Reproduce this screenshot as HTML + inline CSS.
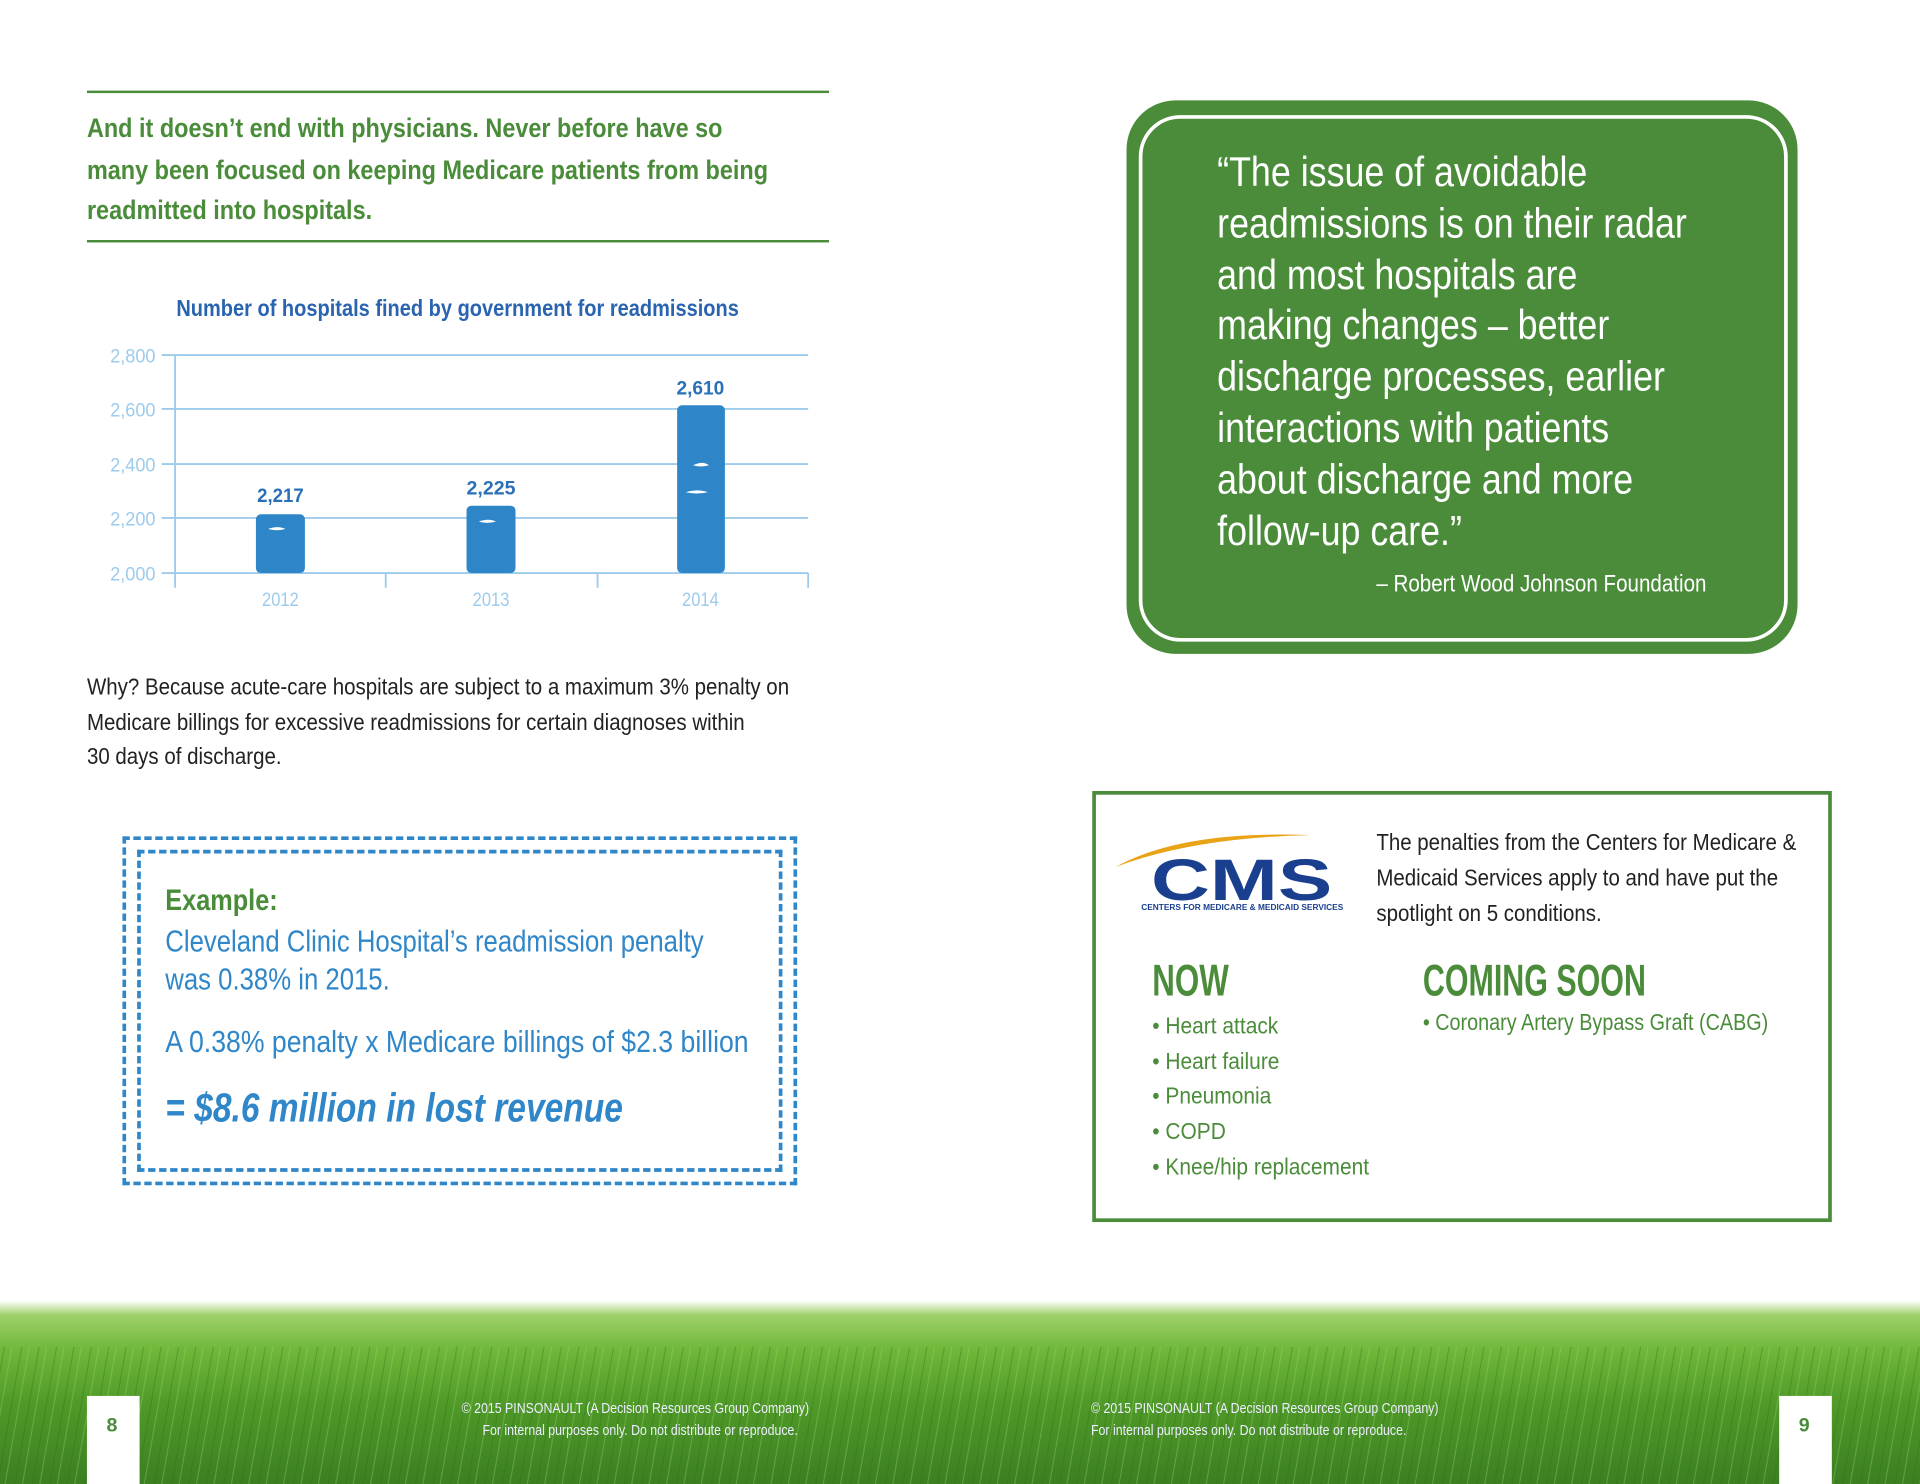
<!DOCTYPE html>
<html><head><meta charset="utf-8">
<style>
html,body{margin:0;padding:0;background:#fff;}
body{width:1920px;height:1484px;overflow:hidden;position:relative;}
#w{position:absolute;left:0;top:0;width:1568px;height:1212px;transform:scale(1.22449);transform-origin:0 0;font-family:"Liberation Sans",sans-serif;}
.a{position:absolute;white-space:nowrap;}
.l{display:block;transform-origin:0 0;white-space:nowrap;}
.g{color:#4a8c3a;}
.b{color:#2f86c8;}
</style></head><body><div id="w">
<div class="a" style="left:71px;top:74px;width:606px;height:2px;background:#4a8c3a"></div>
<div class="a g" style="left:71px;top:88px;font-size:22px;line-height:33.5px;font-weight:bold">
<span class="l" style="transform:scaleX(0.87)">And it doesn’t end with physicians. Never before have so</span>
<span class="l" style="transform:scaleX(0.87)">many been focused on keeping Medicare patients from being</span>
<span class="l" style="transform:scaleX(0.87)">readmitted into hospitals.</span></div>
<div class="a" style="left:71px;top:196px;width:606px;height:2px;background:#4a8c3a"></div>

<div class="a" style="left:144px;top:242px;font-size:19px;font-weight:bold;color:#2a64b0"><span class="l" style="transform:scaleX(0.86)">Number of hospitals fined by government for readmissions</span></div>
<svg class="a" style="left:0;top:0" width="700" height="520">
<g stroke="#9ccbec" stroke-width="1.5">
<line x1="132" y1="290" x2="660" y2="290"/><line x1="132" y1="334" x2="660" y2="334"/><line x1="132" y1="379" x2="660" y2="379"/><line x1="132" y1="423" x2="660" y2="423"/><line x1="132" y1="468" x2="660" y2="468"/>
<line x1="143" y1="290" x2="143" y2="480"/><line x1="315" y1="468" x2="315" y2="480"/><line x1="488" y1="468" x2="488" y2="480"/><line x1="660" y1="468" x2="660" y2="480"/>
</g>
<g font-family="Liberation Sans,sans-serif" font-size="16" fill="#9ccbec" text-anchor="end">
<text x="127" y="296" textLength="37" lengthAdjust="spacingAndGlyphs">2,800</text><text x="127" y="340" textLength="37" lengthAdjust="spacingAndGlyphs">2,600</text><text x="127" y="385" textLength="37" lengthAdjust="spacingAndGlyphs">2,400</text><text x="127" y="429" textLength="37" lengthAdjust="spacingAndGlyphs">2,200</text><text x="127" y="474" textLength="37" lengthAdjust="spacingAndGlyphs">2,000</text>
</g>
<g font-family="Liberation Sans,sans-serif" font-size="16" fill="#9ccbec" text-anchor="middle">
<text x="229" y="495" textLength="30" lengthAdjust="spacingAndGlyphs">2012</text><text x="401" y="495" textLength="30" lengthAdjust="spacingAndGlyphs">2013</text><text x="572" y="495" textLength="30" lengthAdjust="spacingAndGlyphs">2014</text>
</g>
<g fill="#2e86c8">
<rect x="209" y="420" width="40" height="48" rx="4"/><rect x="381" y="413" width="40" height="55" rx="4"/><rect x="553" y="331" width="39" height="137" rx="4"/>
</g>
<g fill="#fff"><path d="M219 432 q8-3 14 0 q-7 2-14 0z"/><path d="M391 426 q8-3 14 0 q-7 2-14 0z"/><path d="M566 380 q8-4 13 0 q-7 2-13 0z"/><path d="M560 402 q10-3 18 0 q-9 2-18 0z"/></g>
<g font-family="Liberation Sans,sans-serif" font-size="16" font-weight="bold" fill="#2a70b8" text-anchor="middle">
<text x="229" y="410" textLength="38" lengthAdjust="spacingAndGlyphs">2,217</text><text x="401" y="404" textLength="40" lengthAdjust="spacingAndGlyphs">2,225</text><text x="572" y="322" textLength="39" lengthAdjust="spacingAndGlyphs">2,610</text>
</g>
</svg>

<div class="a" style="left:71px;top:548px;font-size:19px;line-height:28.5px;color:#222">
<span class="l" style="transform:scaleX(0.88)">Why? Because acute-care hospitals are subject to a maximum 3% penalty on</span>
<span class="l" style="transform:scaleX(0.88)">Medicare billings for excessive readmissions for certain diagnoses within</span>
<span class="l" style="transform:scaleX(0.88)">30 days of discharge.</span></div>

<div class="a" style="left:100px;top:683px;width:545px;height:279px;border:3px dashed #2f86c8"></div>
<div class="a" style="left:112px;top:694px;width:521px;height:257px;border:3px dashed #2f86c8"></div>
<div class="a g" style="left:135px;top:722px;font-size:24px;font-weight:bold"><span class="l" style="transform:scaleX(0.86)">Example:</span></div>
<div class="a b" style="left:135px;top:754px;font-size:25px;line-height:31px">
<span class="l" style="transform:scaleX(0.84)">Cleveland Clinic Hospital’s readmission penalty</span>
<span class="l" style="transform:scaleX(0.84)">was 0.38% in 2015.</span></div>
<div class="a b" style="left:135px;top:837px;font-size:25px"><span class="l" style="transform:scaleX(0.87)">A 0.38% penalty x Medicare billings of $2.3 billion</span></div>
<div class="a b" style="left:135px;top:886px;font-size:33px;font-weight:bold;font-style:italic"><span class="l" style="transform:scaleX(0.83)">= $8.6 million in lost revenue</span></div>

<div class="a" style="left:920px;top:82px;width:548px;height:452px;background:#4a8c3a;border-radius:40px"></div>
<div class="a" style="left:930px;top:94px;width:524px;height:424px;border:3px solid #fff;border-radius:34px"></div>
<div class="a" style="left:994px;top:121px;font-size:34px;line-height:41.8px;color:#fff">
<span class="l" style="transform:scaleX(0.86)">“The issue of avoidable</span>
<span class="l" style="transform:scaleX(0.86)">readmissions is on their radar</span>
<span class="l" style="transform:scaleX(0.86)">and most hospitals are</span>
<span class="l" style="transform:scaleX(0.86)">making changes – better</span>
<span class="l" style="transform:scaleX(0.86)">discharge processes, earlier</span>
<span class="l" style="transform:scaleX(0.86)">interactions with patients</span>
<span class="l" style="transform:scaleX(0.86)">about discharge and more</span>
<span class="l" style="transform:scaleX(0.86)">follow-up care.”</span></div>
<div class="a" style="left:1124px;top:466px;font-size:20px;color:#fff"><span class="l" style="transform:scaleX(0.84)">– Robert Wood Johnson Foundation</span></div>

<div class="a" style="left:892px;top:646px;width:598px;height:346px;border:3px solid #4a8c3a"></div>
<svg class="a" style="left:905px;top:676px" width="205" height="72">
<path d="M6 32 Q60 2 165 6 Q70 8 6 32z" fill="#e8a317"/>
<text x="35" y="59" font-family="Liberation Sans,sans-serif" font-weight="bold" font-size="48" fill="#1b3f8f" textLength="148" lengthAdjust="spacingAndGlyphs">CMS</text>
<text x="27" y="67" font-family="Liberation Sans,sans-serif" font-weight="bold" font-size="7" fill="#1b3f8f" textLength="165" lengthAdjust="spacingAndGlyphs">CENTERS FOR MEDICARE &amp; MEDICAID SERVICES</text>
</svg>
<div class="a" style="left:1124px;top:674px;font-size:19px;line-height:29px;color:#222">
<span class="l" style="transform:scaleX(0.88)">The penalties from the Centers for Medicare &amp;</span>
<span class="l" style="transform:scaleX(0.88)">Medicaid Services apply to and have put the</span>
<span class="l" style="transform:scaleX(0.88)">spotlight on 5 conditions.</span></div>
<div class="a g" style="left:941px;top:780px;font-size:36px;font-weight:bold"><span class="l" style="transform:scaleX(0.71)">NOW</span></div>
<div class="a g" style="left:1162px;top:780px;font-size:36px;font-weight:bold"><span class="l" style="transform:scaleX(0.69)">COMING SOON</span></div>
<div class="a g" style="left:941px;top:825px;font-size:19px;line-height:28.7px">
<span class="l" style="transform:scaleX(0.9)">• Heart attack</span>
<span class="l" style="transform:scaleX(0.9)">• Heart failure</span>
<span class="l" style="transform:scaleX(0.9)">• Pneumonia</span>
<span class="l" style="transform:scaleX(0.9)">• COPD</span>
<span class="l" style="transform:scaleX(0.9)">• Knee/hip replacement</span></div>
<div class="a g" style="left:1162px;top:825px;font-size:19px"><span class="l" style="transform:scaleX(0.85)">• Coronary Artery Bypass Graft (CABG)</span></div>

<div class="a" style="left:0;top:1062px;width:1568px;height:150px;background:linear-gradient(#fff 0px,#9fd06a 12px,#6fb83a 40px,#4f9a28 85px,#3b7f22 150px)"></div>
<div class="a" style="left:0;top:1100px;width:1568px;height:112px;opacity:0.3;background:repeating-linear-gradient(100deg,transparent 0 3px,#2d6a18 3px 4px,transparent 4px 9px,#a8d870 9px 10px,transparent 10px 14px)"></div>
<div class="a" style="left:71px;top:1140px;width:43px;height:72px;background:#fff"></div>
<div class="a" style="left:1453px;top:1140px;width:43px;height:72px;background:#fff"></div>
<div class="a g" style="left:87px;top:1156px;font-size:16px;font-weight:bold">8</div>
<div class="a g" style="left:1469px;top:1156px;font-size:16px;font-weight:bold">9</div>
<div class="a" style="left:377px;top:1141px;font-size:12px;line-height:18px;color:#eef"><span class="l" style="transform:scaleX(0.84)">© 2015 PINSONAULT (A Decision Resources Group Company)</span></div>
<div class="a" style="left:394px;top:1159px;font-size:12px;line-height:18px;color:#eef"><span class="l" style="transform:scaleX(0.84)">For internal purposes only. Do not distribute or reproduce.</span></div>
<div class="a" style="left:891px;top:1141px;font-size:12px;line-height:18px;color:#eef">
<span class="l" style="transform:scaleX(0.84)">© 2015 PINSONAULT (A Decision Resources Group Company)</span>
<span class="l" style="transform:scaleX(0.84)">For internal purposes only. Do not distribute or reproduce.</span></div>
</div></body></html>
